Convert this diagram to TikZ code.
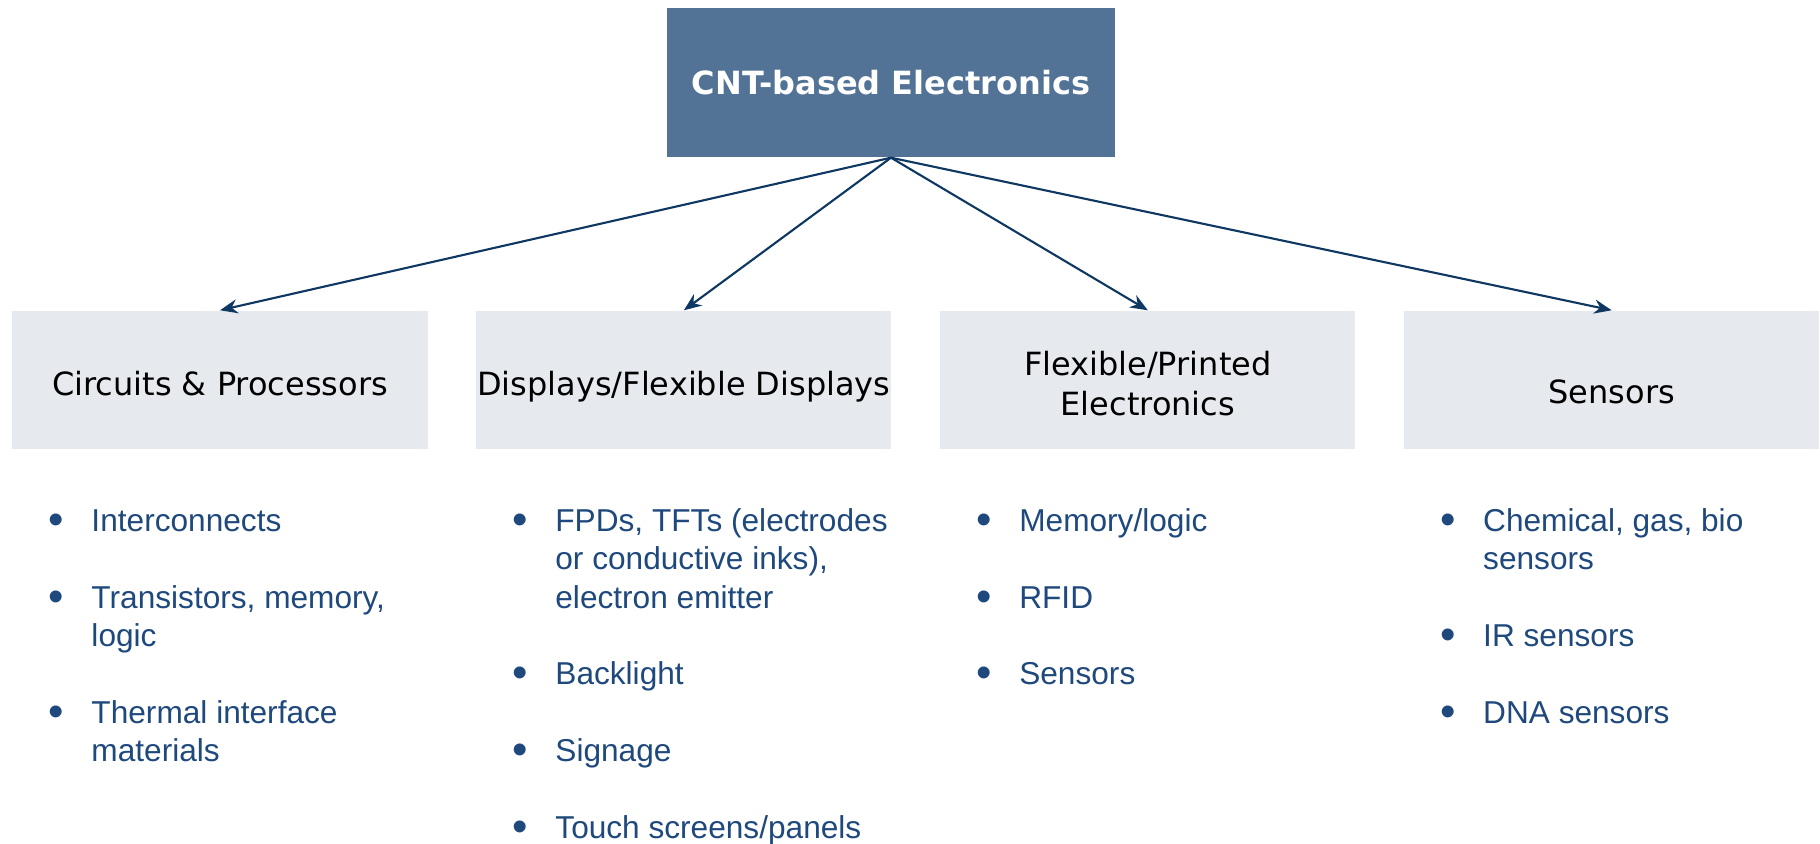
\documentclass[tikz,border=0pt]{standalone}
\usepackage{fontspec}
\setmainfont{Liberation Sans}
\newfontfamily\boxfont{DejaVu Sans}
\usepackage{xcolor}
\usetikzlibrary{arrows.meta}
\usetikzlibrary{positioning}
\definecolor{topblue}{RGB}{82,115,150}
\definecolor{catgray}{RGB}{230,233,238}
\definecolor{itemblue}{RGB}{31,73,125}
\definecolor{arrowblue}{RGB}{14,55,98}
\newcommand{\dotitem}{\raisebox{-0.09em}{\fontsize{12.5}{10.9}\selectfont •}}
\tikzset{
	top node/.style={rectangle,fill=topblue,text=white,minimum width=4.48cm,minimum height=1.49cm,
		font=\boxfont\bfseries\fontsize{9.1}{11}\selectfont},
	cat node/.style={rectangle,fill=catgray,inner sep=0pt,minimum width=4.15cm,minimum height=1.38cm,
		align=center,text height=8.8pt,text depth=0pt,font=\boxfont\fontsize{9.1}{11.4}\selectfont},
	item list/.style={anchor=base west,inner sep=0pt,text=itemblue,font=\fontsize{9}{10.9}\selectfont}
}

\begin{document}
\begin{tikzpicture}[>={Stealth[length=5pt,width=4pt]},
		    arrow/.style={->,draw=arrowblue,line width=0.6pt}]
		    \useasboundingbox (0,0) rectangle (18.2,-8.44);
		    \node [top node] (cnt) at (8.91,-0.825) {CNT-based Electronics};
		    \node [cat node] (circ) at (2.20,-3.80) {Circuits \& Processors};
		    \node [cat node,right=0.475cm of circ] (disp) {Displays/Flexible Displays};
		    \node [cat node,right=0.475cm of disp,text height={},text depth={}] (flex) {\rule{0pt}{9pt}Flexible/Printed\\Electronics};
		    \node [cat node,right=0.475cm of flex,text height=13.4pt] (sens) {Sensors};
		    \draw [arrow] (cnt.south) -- (circ.north);
		    \draw [arrow] (cnt.south) -- (disp.north);
		    \draw [arrow] (cnt.south) -- (flex.north);
		    \draw [arrow] (cnt.south) -- (sens.north);
		    \node [item list] (circlist) at ([shift={(0.36,-0.82)}]circ.south west) {\begin{tabular}[t]{@{}p{0.43cm}@{}l@{}}
		    	\dotitem & Interconnects\\[10.9pt]
		    	\dotitem & Transistors, memory,\\
		    	  & logic\\[10.9pt]
		    	\dotitem & Thermal interface\\
		    	  & materials
		    \end{tabular}};
		    \node [item list] (displist) at ([shift={(0.36,-0.82)}]disp.south west) {\begin{tabular}[t]{@{}p{0.43cm}@{}l@{}}
		    	\dotitem & FPDs, TFTs (electrodes\\
		    	  & or conductive inks),\\
		    	  & electron emitter\\[10.9pt]
		    	\dotitem & Backlight\\[10.9pt]
		    	\dotitem & Signage\\[10.9pt]
		    	\dotitem & Touch screens/panels
		    \end{tabular}};
		    \node [item list] (flexlist) at ([shift={(0.36,-0.82)}]flex.south west) {\begin{tabular}[t]{@{}p{0.43cm}@{}l@{}}
		    	\dotitem & Memory/logic\\[10.9pt]
		    	\dotitem & RFID\\[10.9pt]
		    	\dotitem & Sensors
		    \end{tabular}};
		    \node [item list] (senslist) at ([shift={(0.36,-0.82)}]sens.south west) {\begin{tabular}[t]{@{}p{0.43cm}@{}l@{}}
		    	\dotitem & Chemical, gas, bio\\
		    	  & sensors\\[10.9pt]
		    	\dotitem & IR sensors\\[10.9pt]
		    	\dotitem & DNA sensors
		    \end{tabular}};
\end{tikzpicture}
\end{document}
